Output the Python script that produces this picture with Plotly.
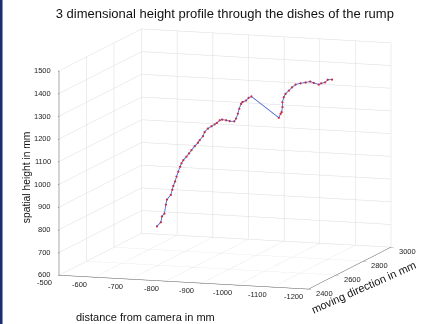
import plotly.graph_objects as go

title_text = "3 dimensional height profile through the dishes of the rump"
x_title = "distance from camera in mm"
y_title = "moving direction in mm"
z_title = "spatial height in mm"

# distance from camera (mm)
dist = [-659, -670, -673, -680, -684, -687, -698, -702, -705, -710,
        -714, -719, -724, -728, -733, -742, -749, -756, -765, -774,
        -779, -788, -793, -802, -812, -821, -827, -835, -842, -853,
        -863, -876, -881, -886, -890, -895, -899, -909, -916, -924,
        -1001, -1006, -1009, -1011, -1011, -1015, -1020, -1029, -1038, -1048,
        -1062, -1076, -1089, -1099, -1113, -1120, -1131, -1138, -1150]
# moving direction (mm)
moving = [2700] * 59
# spatial height (mm)
height = [737, 756, 782, 795, 835, 857, 879, 902, 919, 939,
          961, 983, 1005, 1021, 1035, 1051, 1066, 1081, 1099, 1115,
          1127, 1145, 1164, 1180, 1191, 1200, 1207, 1219, 1223, 1221,
          1218, 1218, 1231, 1253, 1275, 1297, 1305, 1313, 1325, 1332,
          1245, 1263, 1271, 1293, 1314, 1337, 1352, 1367, 1382, 1395,
          1402, 1407, 1412, 1407, 1401, 1407, 1412, 1424, 1426]

x_ticks = [-500, -600, -700, -800, -900, -1000, -1100, -1200]
y_ticks = [2400, 2600, 2800, 3000]
z_ticks = [600, 700, 800, 900, 1000, 1100, 1200, 1300, 1400, 1500]

x_range = [-500, -1200]
y_range = [2400, 3000]
z_range = [600, 1500]

fig = go.Figure()
fig.add_trace(go.Scatter3d(
    x=dist, y=moving, z=height,
    mode="lines+markers",
    line=dict(color="#3a5fcd", width=1.6),
    marker=dict(color="#e8202a", size=1.3),
    showlegend=False,
    hoverinfo="skip",
))

font_family = "Liberation Sans, Arial, sans-serif"
tick_font = dict(family=font_family, size=7.5, color="#222222")
x_label_font = dict(family=font_family, size=11, color="#111111")
z_label_font = dict(family=font_family, size=10.3, color="#111111")

axis_common = dict(
    showbackground=False,
    gridcolor="#dcdcdc",
    gridwidth=1,
    showline=True,
    linecolor="#555555",
    linewidth=1,
    ticks="outside",
    ticklen=3,
    tickcolor="#555555",
    showticklabels=False,
    title=dict(text=""),
    zeroline=False,
    showspikes=False,
)

annotations = []
for v in x_ticks:
    annotations.append(dict(x=v, y=y_range[0], z=z_range[0], text=str(v), showarrow=False,
                            font=tick_font, xanchor="center", yanchor="middle",
                            xshift=-15, yshift=-8))
for v in y_ticks:
    annotations.append(dict(x=x_range[1], y=v, z=z_range[0], text=str(v), showarrow=False,
                            font=tick_font, xanchor="center", yanchor="middle",
                            xshift=16, yshift=-5))
for v in z_ticks:
    annotations.append(dict(x=x_range[0], y=y_range[0], z=v, text=str(v), showarrow=False,
                            font=tick_font, xanchor="right", yanchor="middle",
                            xshift=-6, yshift=0))
annotations.append(dict(x=-850, y=y_range[0], z=z_range[0], text=x_title, showarrow=False,
                        font=x_label_font, xanchor="center", yanchor="middle",
                        xshift=-38, yshift=-35))
annotations.append(dict(x=x_range[1], y=2700, z=z_range[0], text=y_title, showarrow=False,
                        font=x_label_font, xanchor="center", yanchor="middle", textangle=-24,
                        xshift=14, yshift=-19))
annotations.append(dict(x=x_range[0], y=y_range[0], z=1050, text=z_title, showarrow=False,
                        font=z_label_font, xanchor="center", yanchor="middle", textangle=-90,
                        xshift=-33, yshift=-4))

fig.update_layout(
    width=421, height=324,
    margin=dict(l=0, r=0, t=0, b=0),
    paper_bgcolor="white",
    title=dict(text=title_text, x=0.534, xanchor="center", y=0.96, yanchor="middle",
               font=dict(family=font_family, size=13, color="#111111")),
    font=dict(family=font_family),
    scene=dict(
        domain=dict(x=[0.07, 1.0], y=[0.06, 0.96]),
        xaxis=dict(axis_common, range=x_range, autorange=False, tickvals=x_ticks),
        yaxis=dict(axis_common, range=y_range, tickvals=y_ticks),
        zaxis=dict(axis_common, range=z_range, tickvals=z_ticks),
        aspectmode="manual",
        aspectratio=dict(x=1.8, y=1.8, z=1.42),
        camera=dict(
            projection=dict(type="orthographic"),
            eye=dict(x=0.341, y=-1.03, z=0.185),
            up=dict(x=0, y=0, z=1),
            center=dict(x=0, y=0, z=0),
        ),
        annotations=annotations,
    ),
    shapes=[dict(type="rect", xref="paper", yref="paper", x0=0, x1=0.006, y0=0, y1=1,
                 fillcolor="#1b2f6f", line=dict(width=0))],
)

fig.write_html("out.html", config={"displayModeBar": False},
               post_script="document.body.style.margin='0';")
